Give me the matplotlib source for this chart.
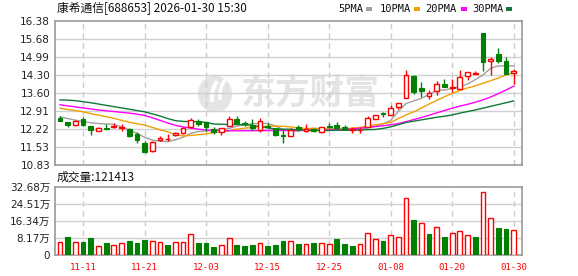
import numpy as np
import matplotlib
matplotlib.use('Agg')
import matplotlib.pyplot as plt
from matplotlib.patches import Rectangle, Ellipse, Arc

plt.rcParams['font.family'] = ['DejaVu Sans', 'Noto Sans CJK SC']

title = '康希通信[688653] 2026-01-30 15:30'
tick_idx = [3, 11, 19, 27, 35, 43, 51, 59]
tick_labels = ['11-11', '11-21', '12-03', '12-15', '12-25', '01-08', '01-20', '01-30']

# daily candles (60 trading days)
opens = [12.64, 12.49, 12.38, 12.60, 12.35, 12.13, 12.24, 12.28, 12.26, 12.21,
         12.01, 11.69, 11.38, 11.79, 11.83, 11.99, 12.06, 12.28, 12.53, 12.48,
         12.21, 12.11, 12.33, 12.59, 12.46, 12.36, 12.18, 12.33, 12.24, 11.98,
         11.94, 12.31, 12.15, 12.21, 12.10, 12.33, 12.37, 12.28, 12.17, 12.16,
         12.31, 12.59, 12.82, 12.76, 13.05, 13.40, 14.26, 13.79, 13.50, 13.70,
         13.95, 13.78, 13.76, 14.26, 14.33, 15.91, 14.83, 15.11, 14.84, 14.36]
closes = [12.54, 12.38, 12.51, 12.37, 12.18, 12.25, 12.21, 12.33, 12.28, 11.96,
          11.79, 11.32, 11.73, 11.86, 11.85, 12.05, 12.24, 12.57, 12.41, 12.31,
          12.11, 12.24, 12.59, 12.46, 12.42, 12.24, 12.53, 12.29, 11.99, 11.96,
          12.18, 12.21, 12.23, 12.13, 12.28, 12.29, 12.27, 12.22, 12.21, 12.18,
          12.63, 12.76, 12.78, 13.02, 13.21, 14.30, 13.66, 13.68, 13.59, 13.94,
          13.85, 13.82, 14.21, 14.43, 14.39, 14.81, 14.90, 14.85, 14.34, 14.45]
highs = [12.73, 12.49, 12.57, 12.67, 12.35, 12.31, 12.40, 12.43, 12.41, 12.26,
         12.09, 11.77, 11.77, 11.96, 12.01, 12.12, 12.30, 12.63, 12.61, 12.50,
         12.30, 12.24, 12.72, 12.70, 12.53, 12.62, 12.65, 12.45, 12.24, 12.18,
         12.27, 12.36, 12.41, 12.26, 12.28, 12.46, 12.48, 12.36, 12.30, 12.28,
         12.72, 12.76, 12.88, 13.14, 13.21, 14.49, 14.30, 14.04, 13.72, 14.07,
         14.15, 14.15, 14.49, 14.43, 14.44, 15.91, 14.98, 15.33, 14.99, 14.53]
lows = [12.52, 12.31, 12.33, 12.33, 12.00, 12.13, 12.18, 12.27, 12.15, 11.91,
        11.69, 11.28, 11.35, 11.75, 11.74, 11.95, 12.02, 12.24, 12.34, 12.14,
        12.04, 11.98, 12.33, 12.44, 12.35, 12.17, 12.12, 12.26, 11.94, 11.69,
        11.94, 12.13, 12.12, 12.09, 12.05, 12.26, 12.25, 12.20, 12.08, 12.05,
        12.31, 12.59, 12.69, 12.76, 12.99, 13.40, 13.58, 13.46, 13.36, 13.53,
        13.85, 13.63, 13.76, 14.11, 14.33, 14.47, 14.30, 14.77, 14.34, 13.94]

ma5 = [12.69, 12.62, 12.56, 12.50, 12.46, 12.43, 12.41, 12.40, 12.30, 12.18,
       12.05, 11.90, 11.79, 11.75, 11.73, 11.80, 11.90, 12.05, 12.12, 12.14,
       12.18, 12.22, 12.24, 12.33, 12.38, 12.42, 12.44, 12.43, 12.34, 12.20,
       12.12, 12.15, 12.20, 12.24, 12.24, 12.24, 12.22, 12.18, 12.18, 12.19,
       12.25, 12.33, 12.41, 12.55, 12.90, 13.20, 13.30, 13.40, 13.55, 13.72,
       13.72, 13.78, 13.85, 13.95, 14.12, 14.30, 14.56, 14.65, 14.65, 14.65]
ma10 = [13.02, 12.97, 12.93, 12.88, 12.81, 12.75, 12.69, 12.63, 12.55, 12.48,
        12.42, 12.37, 12.28, 12.19, 12.11, 12.00, 11.95, 11.97, 12.00, 12.03,
        12.08, 12.10, 12.15, 12.21, 12.25, 12.28, 12.30, 12.33, 12.33, 12.32,
        12.30, 12.26, 12.24, 12.24, 12.22, 12.21, 12.21, 12.22, 12.25, 12.28,
        12.33, 12.38, 12.42, 12.47, 12.62, 12.76, 12.88, 13.03, 13.18, 13.32,
        13.46, 13.59, 13.70, 13.80, 13.88, 13.98, 14.08, 14.18, 14.30, 14.39]
ma20 = [13.15, 13.11, 13.07, 13.03, 12.99, 12.95, 12.92, 12.89, 12.86, 12.83,
        12.79, 12.74, 12.65, 12.55, 12.45, 12.36, 12.30, 12.25, 12.21, 12.18,
        12.16, 12.16, 12.15, 12.15, 12.15, 12.15, 12.15, 12.16, 12.16, 12.16,
        12.16, 12.16, 12.16, 12.17, 12.17, 12.18, 12.19, 12.20, 12.22, 12.25,
        12.28, 12.31, 12.34, 12.38, 12.43, 12.50, 12.58, 12.66, 12.75, 12.84,
        12.93, 13.02, 13.10, 13.17, 13.25, 13.34, 13.45, 13.58, 13.72, 13.87]
ma30 = [13.34, 13.33, 13.31, 13.27, 13.23, 13.18, 13.13, 13.08, 13.03, 12.98,
        12.93, 12.88, 12.80, 12.72, 12.62, 12.54, 12.51, 12.50, 12.50, 12.47,
        12.41, 12.40, 12.39, 12.39, 12.38, 12.36, 12.31, 12.26, 12.22, 12.21,
        12.21, 12.18, 12.17, 12.16, 12.16, 12.16, 12.17, 12.17, 12.17, 12.18,
        12.19, 12.20, 12.24, 12.30, 12.38, 12.47, 12.52, 12.57, 12.62, 12.67,
        12.71, 12.76, 12.83, 12.89, 12.95, 13.02, 13.09, 13.16, 13.23, 13.30]

# volume in 万 shares, colour by change vs previous close (1 = up/red)
volumes = [6.1, 8.8, 6.1, 6.2, 8.3, 4.3, 5.8, 4.8, 5.8, 6.7,
           5.8, 7.2, 6.7, 6.1, 4.8, 6.1, 6.1, 9.9, 5.6, 5.6,
           3.7, 4.6, 8.0, 4.8, 4.3, 4.8, 5.9, 4.3, 4.8, 6.7,
           6.9, 5.3, 5.1, 5.9, 5.8, 5.3, 7.7, 5.3, 4.3, 5.3,
           10.4, 7.5, 6.7, 9.4, 8.5, 27.2, 16.8, 15.2, 10.1, 13.3,
           8.5, 10.4, 11.4, 9.5, 8.5, 30.4, 17.6, 12.8, 12.5, 12.14]
vol_up = [1, 0, 1, 0, 0, 1, 0, 1, 1, 0,
          0, 0, 1, 1, 0, 1, 1, 1, 0, 0,
          0, 1, 1, 0, 0, 0, 1, 0, 0, 0,
          1, 0, 1, 0, 1, 1, 0, 0, 0, 1,
          1, 1, 0, 1, 1, 1, 0, 1, 0, 1,
          0, 1, 1, 1, 0, 1, 1, 0, 0, 1]

price_ticks = [10.83, 11.53, 12.22, 12.91, 13.60, 14.30, 14.99, 15.68, 16.38]
vol_ticks = [0, 8.17, 16.34, 24.51, 32.68]
vol_labels = ['0', '8.17万', '16.34万', '24.51万', '32.68万']

RED = '#ff0000'
GREEN = '#008000'
WM = '#e4e4e7'
ma_colors = ['#a0a0a0', '#f0a000', '#ff00ff', '#0f7a36']

W, H = 578, 276
fig = plt.figure(figsize=(W / 100, H / 100), dpi=100)
fig.patch.set_facecolor('white')


def px_axes(left, top, right, bottom):
    return fig.add_axes([left / W, 1 - bottom / H, (right - left) / W, (bottom - top) / H])


ax = px_axes(55, 21, 522, 165)
axv = px_axes(55, 187, 522, 255)

o = np.array(opens)
c = np.array(closes)
h = np.array(highs)
l = np.array(lows)
x = np.arange(len(o))
up = c >= o

for a in (ax, axv):
    a.set_xlim(-0.65, 60.08)
    for s in a.spines.values():
        s.set_color('#999999')
        s.set_linewidth(1.2)
    for t in tick_idx:
        a.axvline(t, color='#cccccc', lw=1, ls=(0, (4, 3)), zorder=1)
    a.tick_params(length=0)

# price panel
ax.set_ylim(10.83, 16.38)
ax.set_yticks(price_ticks)
ax.set_yticklabels(['%.2f' % v for v in price_ticks], fontsize=7.5, color='#222222')
ax.set_xticks([])
for v in price_ticks[1:-1]:
    ax.axhline(v, color='#d0d0d0', lw=1, zorder=1)

# watermark: logo + name
ax.text(0.546, 0.5, '东方财富', transform=ax.transAxes, ha='center', va='center',
        fontsize=25, fontweight='bold', color=WM, family='Noto Sans CJK SC', zorder=0.5)
lx, ly = (215 - 55) / 467, (165 - 94) / 144
ax.add_patch(Ellipse((lx, ly), 34 / 467, 37 / 144, transform=ax.transAxes,
                     facecolor=WM, edgecolor='none', zorder=0.5))
ax.add_patch(Arc((lx + 12 / 467, ly - 4 / 144), 30 / 467, 44 / 144, theta1=100, theta2=220,
                 transform=ax.transAxes, color='white', lw=3, zorder=0.6))
ax.add_patch(Arc((lx + 20 / 467, ly - 2 / 144), 30 / 467, 44 / 144, theta1=100, theta2=220,
                 transform=ax.transAxes, color='white', lw=2.5, zorder=0.6))

ax.vlines(x, l, h, colors=[RED if u else GREEN for u in up], lw=1, zorder=3)
body_bot = np.minimum(o, c)
body_h = np.maximum(np.abs(c - o), 0.015)
ax.bar(x[up], body_h[up], bottom=body_bot[up], width=0.62, facecolor='white',
       edgecolor=RED, lw=1, zorder=4)
ax.bar(x[~up], body_h[~up], bottom=body_bot[~up], width=0.62, facecolor=GREEN,
       edgecolor=GREEN, lw=0.8, zorder=4)

for ma, col in zip([ma5, ma10, ma20, ma30], ma_colors):
    ax.plot(x, ma, color=col, lw=1, zorder=2.5)

# volume panel
axv.set_ylim(0, 32.68)
axv.set_yticks(vol_ticks)
axv.set_yticklabels(vol_labels, fontsize=7.5, color='#222222')
for v in vol_ticks[1:-1]:
    axv.axhline(v, color='#d0d0d0', lw=1, zorder=1)
vu = np.array(vol_up) == 1
vol = np.array(volumes)
axv.bar(x[vu], vol[vu], width=0.62, facecolor='white', edgecolor=RED, lw=1, zorder=3)
axv.bar(x[~vu], vol[~vu], width=0.62, facecolor=GREEN, edgecolor=GREEN, lw=0.8, zorder=3)
axv.set_xticks(tick_idx)
axv.set_xticklabels(tick_labels, fontsize=6.5, color=RED, family='DejaVu Sans Mono')
axv.tick_params(axis='x', pad=6)

# header texts
fig.text(57 / W, 1 - 9 / H, title, fontsize=8.5, va='center', ha='left',
         family=['Noto Sans CJK SC', 'DejaVu Sans'], color='#111111')
fig.text(57 / W, 1 - 177 / H, '成交量:121413', fontsize=8.5, va='center', ha='left',
         family=['Noto Sans CJK SC', 'DejaVu Sans'], color='#111111')

legend_names = ['5PMA', '10PMA', '20PMA', '30PMA']
legend_x = [338, 380, 425, 472]
square_x = [366, 414, 461, 506]
for name, lx_, sx, col in zip(legend_names, legend_x, square_x, ma_colors):
    fig.text(lx_ / W, 1 - 9 / H, name, fontsize=7.5, va='center', ha='left',
             family='DejaVu Sans Mono', color='#111111')
    fig.patches.append(Rectangle((sx / W, 1 - 11 / H), 6 / W, 4 / H,
                                 transform=fig.transFigure, facecolor=col, edgecolor='none'))

fig.savefig('out.png', dpi=100)
